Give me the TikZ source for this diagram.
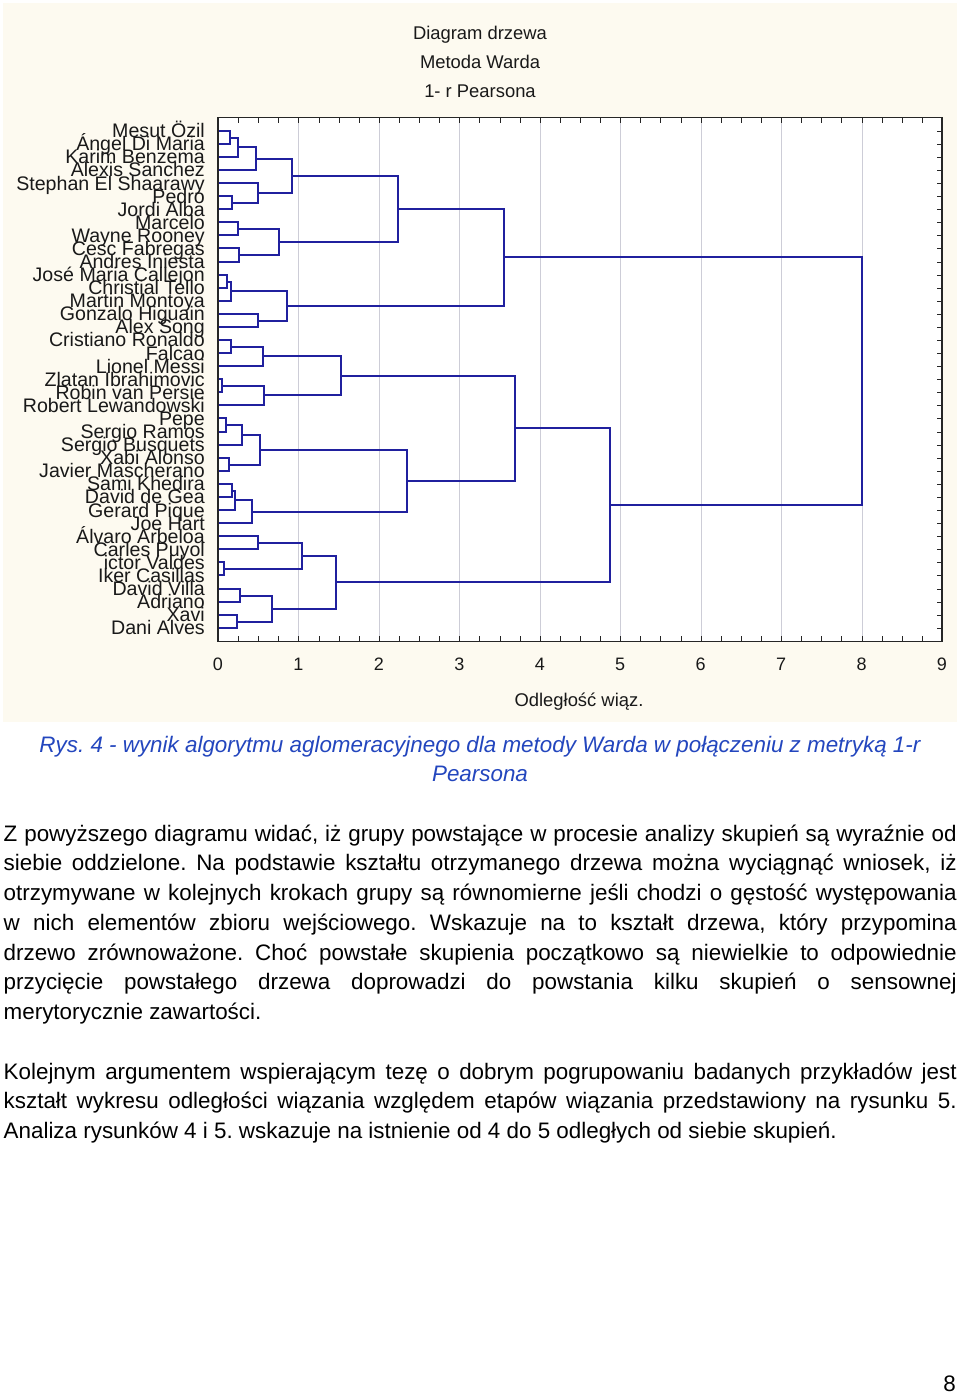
\documentclass[tikz,border=0pt]{standalone}
\usepackage{fontspec}
\setmainfont{Liberation Sans}
\usetikzlibrary{calc}
\frenchspacing
\definecolor{cream}{RGB}{253,250,240}
\definecolor{dendro}{RGB}{32,32,158}
\definecolor{gridc}{RGB}{205,205,215}
\definecolor{capblue}{RGB}{35,70,190}
\definecolor{charttext}{RGB}{25,25,25}
\tikzset{
  dendline/.style={draw=dendro, line width=2pt, line join=miter},
  gridline/.style={draw=gridc, line width=1pt},
  tickline/.style={draw=black!85, line width=1pt},
  plotframe/.style={draw=black!85, line width=1.5pt},
  leaf/.style={anchor=base east, inner sep=0pt, text=charttext, font=\fontsize{19.6}{20}\selectfont},
  charttitle/.style={anchor=base, inner sep=0pt, text=charttext, font=\fontsize{18.4}{20}\selectfont},
  ticklab/.style={anchor=base, inner sep=0pt, text=charttext, font=\fontsize{18}{20}\selectfont},
  bodyline/.style={anchor=base west, inner sep=0pt, font=\fontsize{22.4}{26}\selectfont\frenchspacing},
  capline/.style={anchor=base, inner sep=0pt, text=capblue, font=\fontsize{22.4}{26}\selectfont\itshape},
}
\newcommand\dmerge[4]{%
  \coordinate (tmp) at ($(#2)!0.5!(#3)$);
  \coordinate (hx) at ({round(218+80.44*#4)},0);
  \coordinate (#1) at (hx |- tmp);
  \draw[dendline] (#2) -- (#2 -| #1) -- (#3 -| #1) -- (#3);
}
\begin{document}
\begin{tikzpicture}[x=1pt,y=-1pt]
\useasboundingbox (0,0) rectangle (960,1393);
\fill[white] (0,0) rectangle (960,1393);
% chart background
\fill[cream] (3,3) rectangle (957,722);
\fill[white] (218,117.5) rectangle (942,641.5);
% grid
\foreach \k in {1,...,8} {
  \draw[gridline] ({round(218+80.44*\k)+0.5},118.5) -- ({round(218+80.44*\k)+0.5},640.5);
}
% ticks
\foreach \k in {1,...,35} {
  \draw[tickline] ({round(218+80.44*\k/4)+0.5},117.5) -- ({round(218+80.44*\k/4)+0.5},123);
  \draw[tickline] ({round(218+80.44*\k/4)+0.5},641.5) -- ({round(218+80.44*\k/4)+0.5},636);
}
% titles
\node[charttitle] (t1) at (480,39) {Diagram drzewa};
\node[charttitle] (t2) at (480,68) {Metoda Warda};
\node[charttitle] (t3) at (480,97) {1- r Pearsona};
% leaves
\foreach \name [count=\i] in {Mesut Özil,Ángel Di Maria,Karim Benzema,Alexis Sanchez,Stephan El Shaarawy,Pedro,Jordi Alba,Marcelo,Wayne Rooney,Cesc Fabregas,Andres Iniesta,José Maria Callejon,Christial Tello,Martin Montoya,Gonzalo Higuain,Alex Song,Cristiano Ronaldo,Falcao,Lionel Messi,Zlatan Ibrahimovic,Robin van Persie,Robert Lewandowski,Pepe,Sergio Ramos,Sergio Busquets,Xabi Alonso,Javier Mascherano,Sami Khedira,David de Gea,Gerard Pique,Joe Hart,Álvaro Arbeloa,Carles Puyol,ictor Valdes,Iker Casillas,David Villa,Adriano,Xavi,Dani Alves} {
  \coordinate (L\i) at (218,{round(130.7+13.08*(\i-1))});
  \draw[tickline] (942,{round(130.7+13.08*(\i-1))+0.5}) -- (936.5,{round(130.7+13.08*(\i-1))+0.5});
  \node[leaf] (N\i) at (205,{130.7+13.08*(\i-1)+7}) {\name};
}
% upper group
\dmerge{c12}{L1}{L2}{0.155}
\dmerge{c123}{c12}{L3}{0.245}
\dmerge{c1234}{c123}{L4}{0.475}
\dmerge{c67}{L6}{L7}{0.17}
\dmerge{c567}{L5}{c67}{0.495}
\dmerge{cA}{c1234}{c567}{0.918}
\dmerge{c89}{L8}{L9}{0.245}
\dmerge{c1011}{L10}{L11}{0.26}
\dmerge{cB}{c89}{c1011}{0.76}
\dmerge{cAB}{cA}{cB}{2.24}
\dmerge{c1213}{L12}{L13}{0.115}
\dmerge{c121314}{c1213}{L14}{0.157}
\dmerge{c1516}{L15}{L16}{0.5}
\dmerge{cC}{c121314}{c1516}{0.855}
\dmerge{cUp}{cAB}{cC}{3.554}
% lower group
\dmerge{c1718}{L17}{L18}{0.157}
\dmerge{c171819}{c1718}{L19}{0.554}
\dmerge{c2021}{L20}{L21}{0.055}
\dmerge{c202122}{c2021}{L22}{0.566}
\dmerge{cD}{c171819}{c202122}{1.524}
\dmerge{c2324}{L23}{L24}{0.1}
\dmerge{c232425}{c2324}{L25}{0.295}
\dmerge{c2627}{L26}{L27}{0.14}
\dmerge{cE}{c232425}{c2627}{0.518}
\dmerge{c2829}{L28}{L29}{0.175}
\dmerge{c282930}{c2829}{L30}{0.215}
\dmerge{cF}{c282930}{L31}{0.417}
\dmerge{cEF}{cE}{cF}{2.355}
\dmerge{cDEF}{cD}{cEF}{3.687}
\dmerge{c3233}{L32}{L33}{0.5}
\dmerge{c3435}{L34}{L35}{0.07}
\dmerge{cG}{c3233}{c3435}{1.05}
\dmerge{c3637}{L36}{L37}{0.268}
\dmerge{c3839}{L38}{L39}{0.233}
\dmerge{cH}{c3637}{c3839}{0.67}
\dmerge{cGH}{cG}{cH}{1.465}
\dmerge{cLow}{cDEF}{cGH}{4.874}
\dmerge{root}{cUp}{cLow}{8.006}
% frame
\draw[plotframe] (218,117.5) rectangle (942,641.5);
% axis labels
\foreach \k in {0,...,9} {
  \node[ticklab] (T\k) at ({218+80.44*\k},670) {\k};
}
\node[charttitle] (xlab) at (579,706) {Odległość wiąz.};
% caption
\node[capline] (cap1) at (480,752) {Rys. 4 - wynik algorytmu aglomeracyjnego dla metody Warda w połączeniu z metryką 1-r};
\node[capline] (cap2) at (480,781) {Pearsona};
% body text
\node[bodyline] (p1) at (3.5,841) {\makebox[953pt][s]{Z powyższego diagramu widać, iż grupy powstające w procesie analizy skupień są wyraźnie od}};
\node[bodyline] (p2) at (3.5,870.75) {\makebox[953pt][s]{siebie oddzielone. Na podstawie kształtu otrzymanego drzewa można wyciągnąć wniosek, iż}};
\node[bodyline] (p3) at (3.5,900.5) {\makebox[953pt][s]{otrzymywane w kolejnych krokach grupy są równomierne jeśli chodzi o gęstość występowania}};
\node[bodyline] (p4) at (3.5,930.25) {\makebox[953pt][s]{w nich elementów zbioru wejściowego. Wskazuje na to kształt drzewa, który przypomina}};
\node[bodyline] (p5) at (3.5,960) {\makebox[953pt][s]{drzewo zrównoważone. Choć powstałe skupienia początkowo są niewielkie to odpowiednie}};
\node[bodyline] (p6) at (3.5,989.75) {\makebox[953pt][s]{przycięcie powstałego drzewa doprowadzi do powstania kilku skupień o sensownej}};
\node[bodyline] (p7) at (3.5,1019.5) {merytorycznie zawartości.};
\node[bodyline] (q1) at (3.5,1079) {\makebox[953pt][s]{Kolejnym argumentem wspierającym tezę o dobrym pogrupowaniu badanych przykładów jest}};
\node[bodyline] (q2) at (3.5,1108.75) {\makebox[953pt][s]{kształt wykresu odległości wiązania względem etapów wiązania przedstawiony na rysunku 5.}};
\node[bodyline] (q3) at (3.5,1138.5) {Analiza rysunków 4 i 5. wskazuje na istnienie od 4 do 5 odległych od siebie skupień.};
% page number
\node[anchor=base east, inner sep=0pt, font=\fontsize{22.4}{26}\selectfont] (pg) at (956,1391) {8};
\end{tikzpicture}
\end{document}
